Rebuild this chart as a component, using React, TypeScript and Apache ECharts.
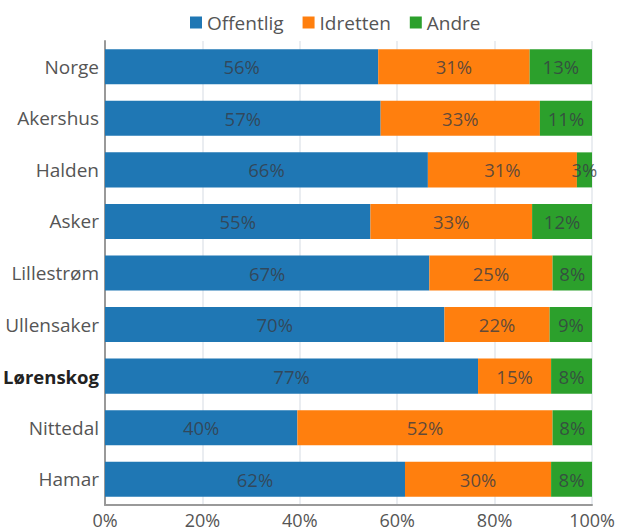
import React, { useEffect, useRef } from "react";
import * as echarts from "echarts";

const categories = ["Norge", "Akershus", "Halden", "Asker", "Lillestrøm", "Ullensaker", "Lørenskog", "Nittedal", "Hamar"];
const offentlig = [56.1, 56.6, 66.3, 54.5, 66.6, 69.7, 76.6, 39.5, 61.6];
const idretten = [31.1, 32.7, 30.6, 33.2, 25.3, 21.6, 15.0, 52.4, 30.0];
const andre = [12.8, 10.7, 3.1, 12.3, 8.1, 8.7, 8.4, 8.1, 8.4];
const xTicks = [0, 20, 40, 60, 80, 100];
const highlight = "Lørenskog";

const FONT = "'Open Sans', 'Noto Sans', sans-serif";

export default function App() {
  const ref = useRef<HTMLDivElement>(null);
  useEffect(() => {
    if (!ref.current) return;
    const chart = echarts.init(ref.current, undefined, { renderer: "svg" });
    const label = {
      show: true,
      position: "inside",
      formatter: (p: any) => Math.round(p.value) + "%",
      color: "rgba(55,60,68,0.8)",
      fontSize: 18.5,
      fontFamily: FONT,
    };
    const mk = (name: string, data: number[], color: string) => ({
      name,
      type: "bar",
      stack: "total",
      data,
      barCategoryGap: "32%",
      itemStyle: { color },
      label,
    });
    chart.setOption({
      animation: false,
      textStyle: { fontFamily: FONT },
      legend: {
        top: 8,
        left: 185,
        itemWidth: 12,
        itemHeight: 12,
        itemGap: 19,
        icon: "rect",
        textStyle: { fontSize: 19, color: "#555", fontFamily: FONT },
        data: ["Offentlig", "Idretten", "Andre"],
      },
      grid: { left: 105, right: 26, top: 41, bottom: 24, containLabel: false },
      xAxis: {
        type: "value",
        min: xTicks[0],
        max: xTicks[xTicks.length - 1],
        interval: 20,
        axisLine: { show: true, lineStyle: { color: "#999", width: 2 } },
        axisTick: { show: false },
        splitLine: { show: true, lineStyle: { color: "#e3e7ec", width: 1.5 } },
        axisLabel: {
          formatter: (v: number) => v + "%",
          fontSize: 18,
          lineHeight: 14,
          color: "#555",
          fontFamily: FONT,
          margin: 8,
        },
      },
      yAxis: {
        type: "category",
        data: categories,
        inverse: true,
        axisLine: { show: true, lineStyle: { color: "#999", width: 2 } },
        axisTick: { show: false },
        axisLabel: {
          fontSize: 19,
          color: "#555",
          fontFamily: FONT,
          margin: 6,
          formatter: (v: string) => (v === highlight ? "{b|" + v + "}" : v),
          rich: { b: { fontWeight: "bold", color: "#222", fontSize: 18.5, fontFamily: FONT } },
        },
      },
      series: [
        mk("Offentlig", offentlig, "#1f77b4"),
        mk("Idretten", idretten, "#ff7f0e"),
        mk("Andre", andre, "#2ca02c"),
      ],
    });
    return () => chart.dispose();
  }, []);
  return <div ref={ref} style={{ width: 618, height: 529, position: "absolute", left: 0, top: 0 }} />;
}
